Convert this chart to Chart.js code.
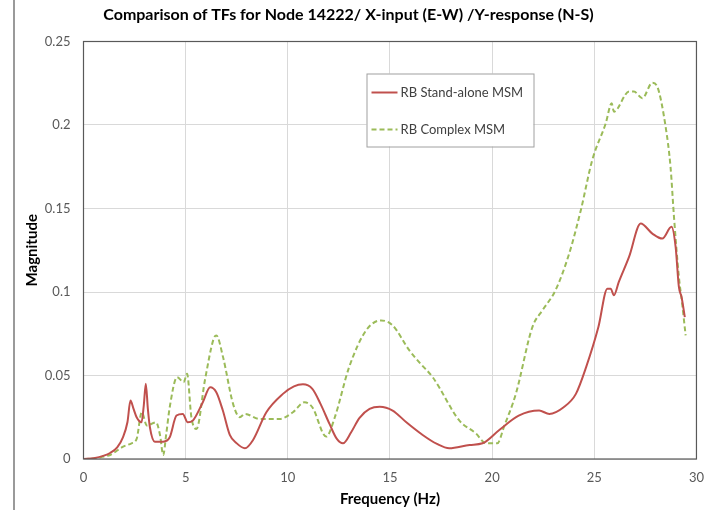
<!DOCTYPE html>
<html lang="en">
<head>
    <meta charset="UTF-8">
    <title>Comparison of TFs for Node 14222</title>
    <script src="https://cdn.jsdelivr.net/npm/chart.js"></script>
    <style>
        html, body { margin: 0; padding: 0; background: #fff; }
        #wrap { width: 715px; height: 510px; }
    </style>
</head>
<body>
    <div id="wrap"><canvas id="myChart" width="715" height="510"></canvas></div>

    <script>
        // RB Stand-alone MSM: frequency (Hz) / magnitude
        const freqStandAlone = [0, 0.5, 1.0, 1.3, 1.65, 1.93, 2.15, 2.3, 2.45, 2.6, 2.84, 2.95, 3.05, 3.15, 3.25, 3.49, 3.9,
            4.22, 4.55, 4.86, 5.1, 5.35, 5.84, 6.2, 6.5, 6.82, 7.16, 7.48, 7.9, 8.3, 8.95, 9.76, 10.3, 10.74, 11.2,
            11.6, 12.04, 12.4, 12.7, 13.1, 13.5, 14.0, 14.5, 15.13, 15.8, 16.6, 17.3, 17.9, 18.9, 19.53, 20.35,
            21.3, 22.3, 22.8, 23.5, 24.1, 24.6, 25.2, 25.64, 25.8, 25.96, 26.2, 26.7, 27.27, 27.84, 28.33, 28.78,
            28.98, 29.14, 29.27, 29.43];
        const magStandAlone = [0, 0.0005, 0.002, 0.0036, 0.007, 0.013, 0.022, 0.035, 0.030, 0.025, 0.022, 0.032, 0.045, 0.030, 0.019, 0.0104, 0.0104,
            0.013, 0.026, 0.027, 0.022, 0.023, 0.034, 0.043, 0.040, 0.029, 0.0144, 0.0096, 0.0064, 0.0114, 0.028, 0.039, 0.0435, 0.0447, 0.042,
            0.033, 0.021, 0.012, 0.0094, 0.016, 0.0245, 0.030, 0.0313, 0.029, 0.022, 0.0144, 0.009, 0.0064, 0.0084, 0.0094, 0.0174,
            0.026, 0.029, 0.027, 0.031, 0.039, 0.055, 0.079, 0.102, 0.102, 0.098, 0.106, 0.121, 0.141, 0.135, 0.132, 0.139,
            0.127, 0.103, 0.097, 0.085];

        // RB Complex MSM
        const freqComplex = [0, 0.5, 1.0, 1.3, 1.94, 2.35, 2.6, 2.85, 3.1, 3.55, 3.75, 3.9, 4.05, 4.22, 4.58, 4.9, 5.07, 5.28, 5.53,
            5.94, 6.37, 6.5, 6.83, 7.32, 7.65, 7.9, 8.62, 9.6, 10.25, 10.82, 11.2, 11.88, 12.3, 13.0, 13.83, 14.57,
            15.13, 15.95, 16.5, 17.09, 18.4, 19.2, 19.7, 20.25, 20.6, 21.16, 21.97, 22.46, 23.1, 23.77, 24.34, 24.9, 25.56,
            25.85, 25.96, 26.7, 26.94, 27.35, 27.84, 28.08, 28.49, 28.73, 28.9, 29.14, 29.3, 29.47];
        const magComplex = [0, 0.0003, 0.0015, 0.0024, 0.0074, 0.0094, 0.012, 0.028, 0.020, 0.022, 0.014, 0.0024, 0.015, 0.031, 0.049, 0.046, 0.051, 0.025, 0.018,
            0.047, 0.072, 0.074, 0.061, 0.033, 0.025, 0.027, 0.024, 0.024, 0.028, 0.034, 0.031, 0.0134, 0.025, 0.055, 0.077, 0.083,
            0.080, 0.065, 0.057, 0.049, 0.023, 0.0154, 0.0094, 0.0094, 0.020, 0.039, 0.079, 0.089, 0.101, 0.123, 0.149, 0.179, 0.201,
            0.213, 0.208, 0.220, 0.220, 0.216, 0.2253, 0.223, 0.199, 0.175, 0.145, 0.109, 0.093, 0.074];

        const xTicks = [0, 5, 10, 15, 20, 25, 30];
        const yTicks = [0, 0.05, 0.1, 0.15, 0.2, 0.25];

        const FONT = 'Lato, "Open Sans", sans-serif';

        const toPoints = (xs, ys) => xs.map((x, i) => ({ x: x, y: ys[i] }));

        // grey rule at the left edge of the page and frame round the plot area
        const framePlugin = {
            id: 'frame',
            beforeDraw(chart) {
                const ctx = chart.ctx;
                ctx.save();
                ctx.strokeStyle = '#9a9a9a';
                ctx.lineWidth = 2;
                ctx.beginPath();
                ctx.moveTo(14, 0);
                ctx.lineTo(14, chart.height);
                ctx.stroke();
                ctx.restore();
            },
            afterDatasetsDraw(chart) {
                const a = chart.chartArea;
                const ctx = chart.ctx;
                ctx.save();
                ctx.strokeStyle = '#595959';
                ctx.lineWidth = 1.2;
                ctx.strokeRect(a.left, a.top, a.right - a.left, a.bottom - a.top);
                ctx.restore();
            }
        };

        // boxed legend inside the plot area
        const boxLegend = {
            id: 'boxLegend',
            afterDraw(chart) {
                const a = chart.chartArea;
                const ctx = chart.ctx;
                const x0 = a.left + 283, y0 = a.top + 32, w = 167, h = 73;
                ctx.save();
                ctx.fillStyle = '#fff';
                ctx.fillRect(x0, y0, w, h);
                ctx.strokeStyle = '#a0a0a0';
                ctx.lineWidth = 1;
                ctx.strokeRect(x0 + 0.5, y0 + 0.5, w, h);
                ctx.font = '13px ' + FONT;
                ctx.textBaseline = 'middle';
                chart.data.datasets.forEach((ds, i) => {
                    const yy = y0 + 19 + i * 37;
                    ctx.strokeStyle = ds.borderColor;
                    ctx.lineWidth = 2;
                    ctx.setLineDash(ds.borderDash || []);
                    ctx.beginPath();
                    ctx.moveTo(x0 + 5, yy);
                    ctx.lineTo(x0 + 31, yy);
                    ctx.stroke();
                    ctx.setLineDash([]);
                    ctx.fillStyle = '#404040';
                    ctx.fillText(ds.label, x0 + 34, yy);
                });
                ctx.restore();
            }
        };

        const ctx = document.getElementById('myChart').getContext('2d');
        const myChart = new Chart(ctx, {
            type: 'line',
            data: {
                datasets: [{
                    label: 'RB Stand-alone MSM',
                    data: toPoints(freqStandAlone, magStandAlone),
                    borderColor: '#c0504d',
                    borderWidth: 2,
                    pointRadius: 0,
                    cubicInterpolationMode: 'monotone',
                    fill: false
                }, {
                    label: 'RB Complex MSM',
                    data: toPoints(freqComplex, magComplex),
                    borderColor: '#9bbb59',
                    borderWidth: 2,
                    borderDash: [5, 3],
                    pointRadius: 0,
                    cubicInterpolationMode: 'monotone',
                    fill: false
                }]
            },
            options: {
                responsive: false,
                animation: false,
                layout: { padding: { left: 0, right: 18, top: 0, bottom: 0 } },
                plugins: {
                    legend: { display: false },
                    tooltip: { enabled: false },
                    title: {
                        display: true,
                        text: 'Comparison of TFs for Node 14222/ X-input (E-W) /Y-response (N-S)',
                        color: '#000',
                        font: { family: FONT, size: 16, weight: 'bold' },
                        padding: { top: 5, bottom: 17.3 }
                    }
                },
                scales: {
                    x: {
                        type: 'linear',
                        min: 0,
                        max: 30,
                        afterBuildTicks: s => { s.ticks = xTicks.map(v => ({ value: v })); },
                        afterFit: s => { s.height = 51; },
                        grid: { color: '#d9d9d9', lineWidth: 1, drawTicks: false },
                        border: { display: false },
                        ticks: { color: '#595959', font: { family: FONT, size: 13 }, padding: 11, maxRotation: 0 },
                        title: {
                            display: true,
                            text: 'Frequency (Hz)',
                            color: '#000',
                            font: { family: FONT, size: 15, weight: 'bold' },
                            padding: { top: 0, bottom: 2 }
                        }
                    },
                    y: {
                        min: 0,
                        max: 0.25,
                        afterBuildTicks: s => { s.ticks = yTicks.map(v => ({ value: v })); },
                        afterFit: s => { s.width = 83.5; },
                        grid: { color: '#d9d9d9', lineWidth: 1, drawTicks: false },
                        border: { display: false },
                        ticks: { color: '#595959', font: { family: FONT, size: 13 }, padding: 13,
                            callback: v => String(v) },
                        title: {
                            display: true,
                            text: 'Magnitude',
                            color: '#000',
                            font: { family: FONT, size: 15, weight: 'bold' },
                            padding: { top: 23, bottom: 0 }
                        }
                    }
                }
            },
            plugins: [framePlugin, boxLegend]
        });
    </script>
</body>
</html>
